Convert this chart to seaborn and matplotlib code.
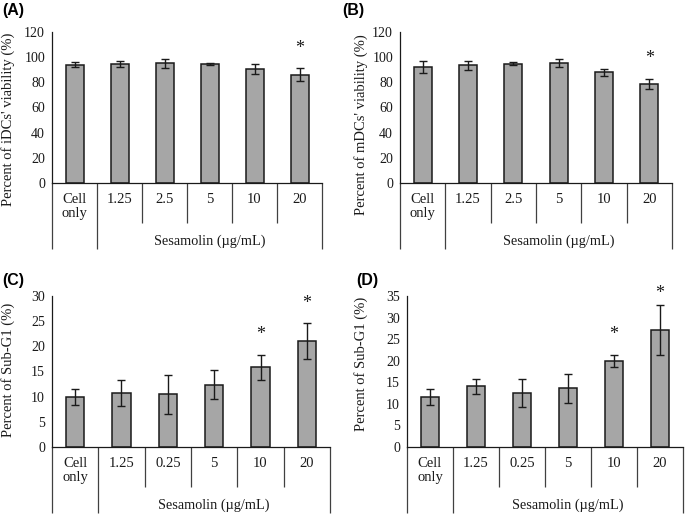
"""Four-panel bar chart: sesamolin effect on DC viability and Sub-G1 fraction."""

import matplotlib
matplotlib.use("Agg")
import matplotlib.pyplot as plt
import seaborn as sns
import pandas as pd

# ── data ─────────────────────────────────────────────────────────────────
CATS_AB = ["Cell\nonly", "1.25", "2.5", "5", "10", "20"]
CATS_CD = ["Cell\nonly", "1.25", "0.25", "5", "10", "20"]

idc_mean = [94.0, 94.7, 95.0, 94.7, 90.7, 86.0]
idc_err  = [2.2, 2.6, 3.8, 0.6, 3.8, 5.0]
idc_sig  = [False, False, False, False, False, True]

mdc_mean = [92.0, 93.5, 94.7, 95.5, 88.0, 79.0]
mdc_err  = [4.6, 3.8, 1.3, 3.3, 2.9, 4.0]
mdc_sig  = [False, False, False, False, False, True]

subg1_c_mean = [10.0, 10.8, 10.5, 12.4, 15.8, 21.0]
subg1_c_err  = [1.6, 2.6, 3.9, 2.8, 2.5, 3.6]
subg1_c_sig  = [False, False, False, False, True, True]

subg1_d_mean = [11.6, 14.1, 12.5, 13.6, 20.0, 27.2]
subg1_d_err  = [1.9, 1.7, 3.2, 3.3, 1.4, 5.8]
subg1_d_sig  = [False, False, False, False, True, True]

BAR   = "#A6A6A6"
EDGE  = "#1A1A1A"
LINE  = "#404040"
SERIF = ["Liberation Serif", "DejaVu Serif"]
SANS  = ["Liberation Sans", "DejaVu Sans"]

W, H = 685, 514


def _ax_rect(left, bottom, width, height):
    return [left / W, (H - bottom) / H, width / W, height / H]


def _panel(fig, rect, cats, mean, err, sig, ymax, ystep, ylabel, label_x, label_y,
           tag, tag_xy):
    ax = fig.add_axes(_ax_rect(*rect))
    df = pd.DataFrame({"dose": cats, "value": mean})
    sns.barplot(data=df, x="dose", y="value", order=cats, ax=ax,
                color=BAR, saturation=1, width=0.4, errorbar=None,
                edgecolor=EDGE, linewidth=1.1)
    xs = list(range(len(cats)))
    ax.errorbar(xs, mean, yerr=err, fmt="none", ecolor=EDGE,
                elinewidth=1.0, capsize=3.2, capthick=1.0, zorder=3)

    # significance stars ~20 px above the error bar, kept just above the axis top
    px = ymax / rect[3]
    for x, m, e, s in zip(xs, mean, err, sig):
        if s:
            y = min(m + e + 20 * px, ymax + 3 * px)
            ax.text(x, y, "*", ha="center", va="center", fontsize=13,
                    family=SERIF, color=EDGE, clip_on=False)

    ax.set_xlim(-0.5, len(cats) - 0.5)
    ax.set_ylim(0, ymax)
    ax.set_yticks(range(0, ymax + 1, ystep))
    ax.tick_params(axis="y", direction="out", length=3, width=0.9, pad=2,
                   labelsize=10, colors=EDGE)
    ax.tick_params(axis="x", length=0, pad=7, labelsize=10.5, colors=EDGE)
    ax.set_xticks(xs)
    ax.set_xticklabels(cats, linespacing=1.15)
    for t in ax.get_xticklabels() + ax.get_yticklabels():
        t.set_family(SERIF)
    ax.set_xlabel("")
    ax.set_ylabel(ylabel, fontsize=10.5, family=SERIF, color=EDGE)
    ax.yaxis.set_label_coords(label_x / W, 1 - label_y / H, transform=fig.transFigure)

    for side in ("top", "right"):
        ax.spines[side].set_visible(False)
    for side in ("left", "bottom"):
        ax.spines[side].set_color(EDGE)
        ax.spines[side].set_linewidth(0.9)

    # category table below the x axis
    tr = ax.get_xaxis_transform()
    n = len(cats)
    for k in range(n + 1):
        low = -0.44 if k in (0, 1, n) else -0.265
        ax.plot([k - 0.5, k - 0.5], [0, low], transform=tr, color=LINE,
                lw=0.9, clip_on=False, solid_capstyle="butt")
    ax.text((0.5 + n - 0.5) / 2, -0.385, "Sesamolin (µg/mL)", transform=tr,
            ha="center", va="center", fontsize=10.3, family=SERIF, color=EDGE)

    fig.text(tag_xy[0] / W, 1 - tag_xy[1] / H, tag, ha="left", va="center",
             fontsize=11.5, fontweight="bold", family=SANS, color="black")
    return ax


sns.set_style("white")
plt.rcParams["font.family"] = SERIF

fig = plt.figure(figsize=(W / 100, H / 100), dpi=100, facecolor="white")

_panel(fig, (52, 183, 270, 151), CATS_AB, idc_mean, idc_err, idc_sig, 120, 20,
       "Percent of iDCs' viability (%)", 15, 119, "(A)", (2, 10))
_panel(fig, (400, 183, 272, 151), CATS_AB, mdc_mean, mdc_err, mdc_sig, 120, 20,
       "Percent of mDCs' viability (%)", 368, 125, "(B)", (342, 10))
_panel(fig, (52, 447, 278, 151), CATS_CD, subg1_c_mean, subg1_c_err, subg1_c_sig,
       30, 5, "Percent of Sub-G1 (%)", 15, 370, "(C)", (2, 281))
_panel(fig, (407, 447, 276, 151), CATS_CD, subg1_d_mean, subg1_d_err, subg1_d_sig,
       35, 5, "Percent of Sub-G1 (%)", 368, 364, "(D)", (356, 280))

fig.savefig("out.png", dpi=100, facecolor="white")
